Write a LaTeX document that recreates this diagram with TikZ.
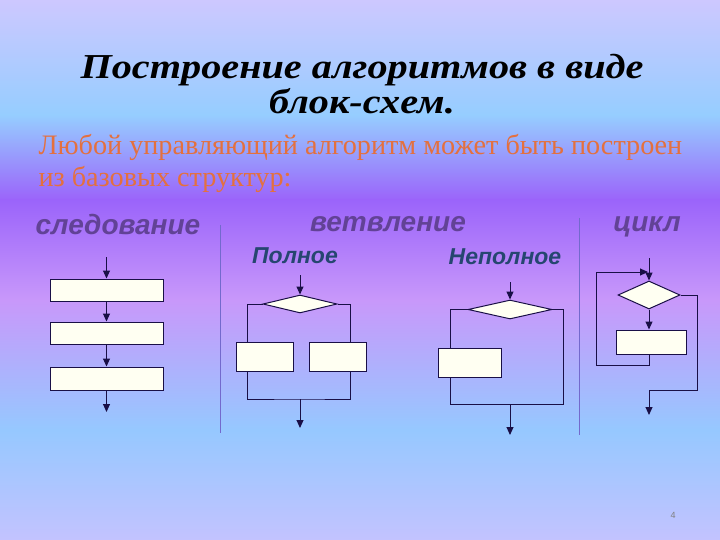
\documentclass[tikz,border=0pt]{standalone}
\usepackage{fontspec}
\setmainfont{Liberation Serif}
\newfontfamily\arialfont{Liberation Sans}
\usetikzlibrary{arrows.meta,shapes.geometric}

\definecolor{bgA}{RGB}{205,200,255}
\definecolor{bgB}{RGB}{150,205,255}
\definecolor{bgC}{RGB}{155,100,250}
\definecolor{bgD}{RGB}{200,152,250}
\definecolor{bgE}{RGB}{150,200,255}
\definecolor{bgF}{RGB}{195,195,255}
\definecolor{lineblue}{RGB}{25,15,70}
\definecolor{boxfill}{RGB}{255,255,242}
\definecolor{orangetext}{RGB}{228,112,62}
\definecolor{kindtext}{RGB}{98,66,150}
\definecolor{subtext}{RGB}{38,70,112}
\definecolor{divcol}{RGB}{115,105,205}

\begin{document}
\begin{tikzpicture}[x=1pt,y=-1pt,
    blk/.style={draw=lineblue, fill=boxfill, line width=1pt, inner sep=0pt},
    cond/.style={draw=lineblue, fill=boxfill, line width=1pt, shape=diamond, inner sep=0pt},
    ln/.style={draw=lineblue, line width=1pt},
    arr/.style={ln, -{Triangle[length=8pt,width=7pt]}},
    ttl/.style={font=\fontsize{35}{35}\selectfont\bfseries\itshape},
    kind/.style={font=\arialfont\fontsize{28}{28}\selectfont\bfseries\itshape, text=kindtext},
    sub/.style={font=\arialfont\fontsize{23}{23}\selectfont\bfseries\itshape, text=subtext}]
\useasboundingbox (0,0) rectangle (720,540);
% background
\shade[top color=bgA, bottom color=bgB] (0,0) rectangle (720,115);
\shade[top color=bgB, bottom color=bgC] (0,115) rectangle (720,200);
\shade[top color=bgC, bottom color=bgD] (0,200) rectangle (720,300);
\shade[top color=bgD, bottom color=bgE] (0,300) rectangle (720,430);
\shade[top color=bgE, bottom color=bgF] (0,430) rectangle (720,540);

% title and text
\node[ttl] (title1) at (362,70) {\scalebox{1.15}[1]{Построение алгоритмов в виде}};
\node[ttl] (title2) at (362,101) {\scalebox{1.15}[1]{блок-схем.}};
\node[anchor=west, align=left, text=orangetext, font=\fontsize{28.2}{32}\selectfont] (intro) at (35,163)
  {Любой управляющий алгоритм может быть построен\\из базовых структур:};
\node[kind] (seq) at (118,224) {следование};
\node[kind] (branch) at (388,224) {ветвление};
\node[kind] (loop) at (647,227) {цикл};
\node[sub] (full) at (295,256) {Полное};
\node[sub] (part) at (505,257) {Неполное};
\node[font=\arialfont\fontsize{9}{9}\selectfont, text=gray] (page) at (673,515) {4};

\draw[divcol, line width=0.8pt] (220,225) -- (220,433);
\draw[divcol, line width=0.8pt] (579,218) -- (579,435);

% следование
\coordinate (s0) at (106.5,257);
\node[blk, minimum width=113pt, minimum height=22pt] (s1) at (106.5,290) {};
\node[blk, minimum width=113pt, minimum height=22pt] (s2) at (106.5,333) {};
\node[blk, minimum width=113pt, minimum height=23pt] (s3) at (106.5,378.5) {};
\coordinate (s4) at (106.5,412);
\draw[arr] (s0) -- (s1.north);
\draw[arr] (s1.south) -- (s2.north);
\draw[arr] (s2.south) -- (s3.north);
\draw[arr] (s3.south) -- (s4);

% полное ветвление
\coordinate (p0) at (300,275);
\node[cond, minimum width=74pt, minimum height=18pt] (pd) at (300,304) {};
\node[blk, minimum width=57pt, minimum height=29pt] (pl) at (264.5,356.5) {};
\node[blk, minimum width=57pt, minimum height=29pt] (pr) at (337.5,356.5) {};
\coordinate (pla) at (247,342);
\coordinate (plb) at (247,371);
\coordinate (pra) at (350,342);
\coordinate (prb) at (350,371);
\coordinate (pj) at (300,399);
\coordinate (p5) at (300,428);
\draw[arr] (p0) -- (pd.north);
\draw[ln] (pd.west) -| (pla);
\draw[ln] (pd.east) -| (pra);
\draw[ln] (plb) |- (pj) -| (prb);
\draw[arr] (pj) -- (p5);

% неполное ветвление
\coordinate (n0) at (510,282);
\node[cond, minimum width=84pt, minimum height=19pt] (nd) at (510,309.5) {};
\node[blk, minimum width=63pt, minimum height=29pt] (nb) at (469.5,362.5) {};
\coordinate (nla) at (450,348);
\coordinate (nlb) at (450,377);
\coordinate (nj) at (510,404);
\coordinate (nr) at (563,404);
\coordinate (n5) at (510,435);
\draw[arr] (n0) -- (nd.north);
\draw[ln] (nd.west) -| (nla);
\draw[ln] (nlb) |- (nr) |- (nd.east);
\draw[arr] (nj) -- (n5);

% цикл
\coordinate (c0) at (649,258);
\node[cond, minimum width=62pt, minimum height=28pt] (cd) at (649,295) {};
\node[blk, minimum width=70pt, minimum height=24pt] (cb) at (651,342) {};
\coordinate (cl) at (596,272);
\coordinate (cj) at (648,272);
\coordinate (cr) at (697,390);
\coordinate (c5) at (649,415);
\draw[arr] (c0) -- (cd.north);
\draw[arr] (cd.south) -- (cb.north -| cd.south);
\draw[ln] (cb.south -| cd.south) -- ++(0,11) -| (cl);
\draw[arr] (cl) -- (cj);
\draw[arr] (cd.east) -| (cr) -| (c5);
\end{tikzpicture}
\end{document}
